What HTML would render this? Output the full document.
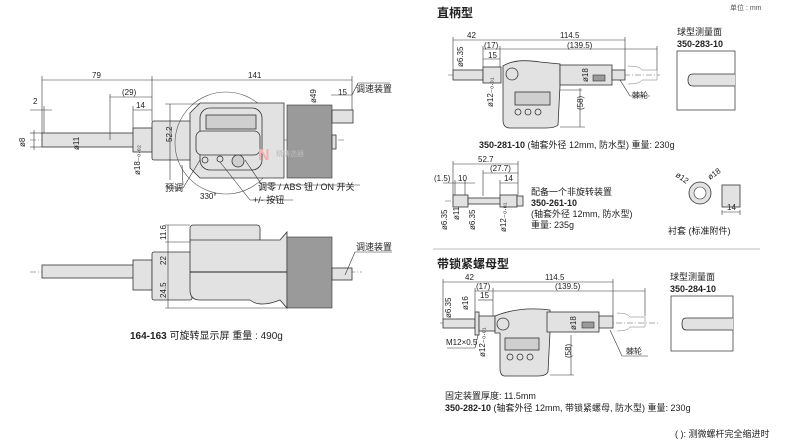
<!DOCTYPE html>
<html><head><meta charset="utf-8"><style>
body{margin:0;background:#fff}
svg{display:block}
text{font-family:"Liberation Sans","Noto Sans CJK SC",sans-serif;fill:#222}
.d{font-size:8px}.c{font-size:9px}.b{font-size:9px;font-weight:bold}
.ln{stroke:#333;stroke-width:.6;fill:none}
.g{fill:#e2e2e2;stroke:#333;stroke-width:.8}
.g2{fill:#cfcfcf;stroke:#333;stroke-width:.8}
.k{fill:#9a9a9a;stroke:#333;stroke-width:.6}
.cl{stroke:#555;stroke-width:.5;stroke-dasharray:6 2 1 2;fill:none}
</style></head><body>
<svg width="800" height="443" viewBox="0 0 800 443">
<!-- ============ LEFT TOP VIEW ============ -->
<line class="cl" x1="30" y1="140" x2="345" y2="140"/>
<rect class="g" x="42" y="133" width="93" height="14"/>
<rect class="g" x="133" y="128" width="19" height="24"/>
<rect class="g" x="152" y="121" width="40" height="39" rx="2"/>
<circle cx="226" cy="143" r="51" fill="none" stroke="#555" stroke-width=".6"/>
<path class="g" d="M200 103 H284 V178 H200 L190 168 V113 Z"/>
<rect class="g" x="200" y="108" width="62" height="62" rx="10"/>
<rect class="g2" x="206" y="115" width="50" height="14"/>
<rect class="g" x="196" y="131" width="64" height="24" rx="6"/>
<circle class="g" cx="205" cy="160" r="3"/><circle class="g" cx="220" cy="159" r="3"/>
<circle class="g2" cx="238" cy="161" r="6"/>
<rect class="k" x="287" y="105" width="45" height="73"/>
<rect class="g" x="332" y="110" width="21" height="13"/>
<rect class="g" x="332" y="135" width="4" height="14"/>
<!-- dims -->
<g class="ln">
<line x1="42" y1="80" x2="352" y2="80"/><line x1="42" y1="76" x2="42" y2="133"/><line x1="152" y1="76" x2="152" y2="121"/><line x1="352" y1="76" x2="352" y2="110"/>
<line x1="110" y1="97" x2="152" y2="97"/><line x1="110" y1="94" x2="110" y2="140"/>
<line x1="133" y1="110" x2="152" y2="110"/><line x1="133" y1="106" x2="133" y2="128"/>
<line x1="30" y1="110" x2="52" y2="110"/><line x1="44" y1="106" x2="44" y2="133"/>
<line x1="30" y1="133" x2="42" y2="133"/><line x1="30" y1="147" x2="42" y2="147"/><line x1="34" y1="130" x2="34" y2="150"/>
<line x1="170" y1="104" x2="170" y2="180"/><line x1="165" y1="104" x2="200" y2="104"/>
<line x1="331" y1="95" x2="352" y2="95"/><line x1="352" y1="95" x2="358" y2="83"/><line x1="358" y1="83" x2="390" y2="83"/>
<line x1="182" y1="165" x2="183" y2="185"/><line x1="166" y1="188" x2="183" y2="188"/><line x1="183" y1="188" x2="200" y2="160"/>
<line x1="245" y1="160" x2="262" y2="185"/><line x1="262" y1="185" x2="360" y2="185"/>
<line x1="220" y1="162" x2="250" y2="200"/><line x1="250" y1="200" x2="293" y2="200"/>
</g>
<text class="d" x="92" y="78">79</text><text class="d" x="248" y="78">141</text>
<text class="d" x="122" y="95">(29)</text><text class="d" x="136" y="108">14</text><text class="d" x="33" y="104">2</text>
<text class="d" x="338" y="95">15</text><text class="c" x="356" y="92">调速装置</text>
<text class="d" transform="translate(25 147) rotate(-90)">ø8</text>
<text class="d" transform="translate(79 150) rotate(-90)">ø11</text>
<text class="d" transform="translate(140 175) rotate(-90)">ø18₋₀.₀₂</text>
<text class="d" transform="translate(172 142) rotate(-90)">52.2</text>
<text class="d" transform="translate(316 103) rotate(-90)">ø49</text>
<text class="c" x="165" y="191">预调</text><text class="d" x="200" y="199">330°</text>
<text class="c" x="258" y="190">调零 / ABS 钮 / ON 开关</text>
<text class="c" x="253" y="203">+/- 按钮</text>
<!-- watermark -->
<text x="258" y="160" style="font-size:16px;font-weight:bold;fill:#f3b0b0">N</text>
<text x="276" y="156" style="font-size:7px;fill:#bbb">精铸选器</text>
<!-- ============ LEFT SIDE VIEW ============ -->
<line class="cl" x1="30" y1="272" x2="362" y2="272"/>
<rect class="g" x="42" y="265" width="93" height="13"/>
<rect class="g" x="133" y="260" width="19" height="30"/>
<rect class="g" x="152" y="252" width="40" height="48" rx="2"/>
<rect class="g" x="190" y="225" width="70" height="17" rx="3"/>
<path class="g" d="M190 240 H280 L287 232 V308 L280 300 Q260 308 250 300 H200 Q190 300 190 290 Z"/>
<line x1="190" y1="272" x2="287" y2="272" stroke="#222" stroke-width="1"/>
<rect class="k" x="287" y="237" width="45" height="71"/>
<rect class="g" x="332" y="268" width="20" height="12"/>
<g class="ln">
<line x1="165" y1="225" x2="190" y2="225"/><line x1="165" y1="242" x2="190" y2="242"/><line x1="165" y1="308" x2="287" y2="308"/>
<line x1="168" y1="225" x2="168" y2="308"/>
<line x1="345" y1="275" x2="355" y2="252"/><line x1="355" y1="252" x2="392" y2="252"/>
</g>
<text class="d" transform="translate(166 240) rotate(-90)">11.6</text>
<text class="d" transform="translate(166 265) rotate(-90)">22</text>
<text class="d" transform="translate(166 298) rotate(-90)">24.5</text>
<text class="c" x="356" y="250">调速装置</text>
<text x="130" y="339" style="font-size:10px"><tspan font-weight="bold">164-163</tspan> 可旋转显示屏  重量 : 490g</text>
<!-- ============ RIGHT ============ -->
<text x="437" y="17" style="font-size:12px;font-weight:bold">直柄型</text>
<text x="730" y="10" style="font-size:7px;fill:#555">单位 : mm</text>
<!-- top drawing -->
<line class="cl" x1="448" y1="75" x2="660" y2="75"/>
<rect class="g" x="453" y="70" width="30" height="10"/>
<rect class="g" x="483" y="67" width="18" height="16"/>
<path class="g" d="M503 66 Q515 58 540 62 L560 64 V86 L558 125 Q555 128 545 128 H510 Q503 128 503 120 Z"/>
<circle class="g" cx="512" cy="74" r="6"/>
<rect class="g2" x="515" y="92" width="35" height="13"/>
<circle class="g" cx="518" cy="112" r="3"/><circle class="g" cx="528" cy="112" r="3"/><circle class="g" cx="538" cy="112" r="3"/>
<rect class="g" x="560" y="65" width="52" height="20"/>
<rect class="k" x="593" y="75" width="12" height="6"/>
<rect class="g" x="612" y="70" width="13" height="10"/>
<path d="M628 66 Q640 66 642 70 H657 V80 H642 Q640 84 628 84" fill="none" stroke="#777" stroke-width=".5"/>
<g class="ln">
<line x1="453" y1="40" x2="625" y2="40"/><line x1="453" y1="37" x2="453" y2="70"/><line x1="625" y1="37" x2="625" y2="70"/>
<line x1="483" y1="49" x2="657" y2="49"/><line x1="483" y1="46" x2="483" y2="67"/><line x1="500" y1="46" x2="500" y2="67"/><line x1="657" y1="46" x2="657" y2="70"/>
<line x1="483" y1="59" x2="500" y2="59"/>
<line x1="560" y1="90" x2="582" y2="90"/><line x1="560" y1="127" x2="585" y2="127"/><line x1="580" y1="88" x2="580" y2="127"/>
<line x1="620" y1="80" x2="630" y2="96"/><line x1="630" y1="96" x2="650" y2="96"/>
</g>
<text class="d" x="467" y="38">42</text><text class="d" x="560" y="38">114.5</text>
<text class="d" x="484" y="48">(17)</text><text class="d" x="567" y="48">(139.5)</text><text class="d" x="488" y="58">15</text>
<text class="d" transform="translate(463 67) rotate(-90)">ø6.35</text>
<text class="d" transform="translate(493 107) rotate(-90)">ø12₋₀.₀₁</text>
<text class="d" transform="translate(588 82) rotate(-90)">ø18</text>
<text class="d" transform="translate(583 110) rotate(-90)">(58)</text>
<text class="d" x="632" y="98">棘轮</text>
<text class="c" x="479" y="148"><tspan font-weight="bold">350-281-10</tspan> (轴套外径 12mm, 防水型) 重量: 230g</text>
<text class="c" x="677" y="35">球型测量面</text><text class="b" x="677" y="47">350-283-10</text>
<rect x="677" y="51" width="58" height="59" fill="#fff" stroke="#444" stroke-width=".8"/>
<path class="g" d="M735 74 H693 Q688 74 688 80 Q688 86 693 86 H735"/>
<!-- second -->
<line class="cl" x1="445" y1="201" x2="520" y2="201"/>
<rect class="g" x="453" y="195" width="15" height="12"/>
<rect class="g" x="468" y="198" width="33" height="6"/>
<rect class="g" x="500" y="195" width="17" height="12"/>
<rect class="g" x="517" y="196" width="6" height="10"/>
<g class="ln">
<line x1="453" y1="164" x2="518" y2="164"/><line x1="453" y1="161" x2="453" y2="195"/><line x1="518" y1="161" x2="518" y2="195"/>
<line x1="483" y1="173" x2="518" y2="173"/><line x1="483" y1="170" x2="483" y2="196"/>
<line x1="500" y1="183" x2="518" y2="183"/><line x1="500" y1="180" x2="500" y2="195"/>
<line x1="443" y1="183" x2="475" y2="183"/><line x1="455" y1="180" x2="455" y2="195"/><line x1="465" y1="180" x2="465" y2="195"/>
</g>
<text class="d" x="478" y="162">52.7</text><text class="d" x="490" y="171">(27.7)</text><text class="d" x="504" y="181">14</text>
<text class="d" x="434" y="181">(1.5)</text><text class="d" x="458" y="181">10</text>
<text class="d" transform="translate(447 230) rotate(-90)">ø6.35</text>
<text class="d" transform="translate(459 220) rotate(-90)">ø11</text>
<text class="d" transform="translate(475 230) rotate(-90)">ø6.35</text>
<text class="d" transform="translate(506 232) rotate(-90)">ø12₋₀.₀₁</text>
<text class="c" x="531" y="195">配备一个非旋转装置</text>
<text class="b" x="531" y="206">350-261-10</text>
<text class="c" x="531" y="217">(轴套外径 12mm, 防水型)</text>
<text class="c" x="531" y="228">重量: 235g</text>
<circle class="g" cx="700" cy="193" r="11"/><circle cx="700" cy="193" r="6" fill="#fff" stroke="#333" stroke-width=".6"/>
<rect class="g" x="722" y="185" width="18" height="22"/>
<g class="ln"><line x1="722" y1="210" x2="722" y2="215"/><line x1="740" y1="210" x2="740" y2="215"/><line x1="722" y1="212" x2="740" y2="212"/></g>
<text class="d" x="727" y="210">14</text>
<text class="d" transform="translate(675 176) rotate(35)">ø12</text>
<text class="d" transform="translate(710 180) rotate(-35)">ø18</text>
<text class="c" x="668" y="234">衬套 (标准附件)</text>
<line x1="433" y1="249" x2="760" y2="249" stroke="#bbb" stroke-width="1"/>
<!-- bottom right -->
<text x="437" y="268" style="font-size:12px;font-weight:bold">带锁紧螺母型</text>
<line class="cl" x1="440" y1="323" x2="660" y2="323"/>
<rect class="g" x="443" y="319" width="32" height="9"/>
<rect class="g" x="475" y="312" width="4" height="23"/>
<rect class="g" x="479" y="316" width="16" height="15"/>
<path class="g" d="M495 316 Q520 306 550 310 V332 L548 372 Q546 376 538 376 H505 Q500 376 500 368 V333 H495 Z"/>
<circle class="g" cx="503" cy="324" r="6"/>
<rect class="g2" x="505" y="338" width="34" height="12"/>
<circle class="g" cx="510" cy="357" r="3"/><circle class="g" cx="520" cy="357" r="3"/><circle class="g" cx="530" cy="357" r="3"/>
<rect class="g" x="547" y="312" width="52" height="20"/>
<rect class="k" x="582" y="322" width="12" height="6"/>
<rect class="g" x="599" y="316" width="14" height="12"/>
<path d="M617 313 Q628 313 630 317 H645 V327 H630 Q628 331 617 331" fill="none" stroke="#777" stroke-width=".5"/>
<g class="ln">
<line x1="443" y1="282" x2="613" y2="282"/><line x1="443" y1="279" x2="443" y2="319"/><line x1="613" y1="279" x2="613" y2="316"/>
<line x1="475" y1="291" x2="645" y2="291"/><line x1="475" y1="288" x2="475" y2="312"/><line x1="493" y1="288" x2="493" y2="316"/><line x1="645" y1="288" x2="645" y2="316"/>
<line x1="478" y1="300" x2="493" y2="300"/>
<line x1="447" y1="348" x2="475" y2="348"/><line x1="475" y1="348" x2="478" y2="335"/>
<line x1="550" y1="375" x2="574" y2="375"/><line x1="571" y1="335" x2="571" y2="375"/>
<line x1="610" y1="330" x2="622" y2="356"/><line x1="622" y1="356" x2="648" y2="356"/>
</g>
<text class="d" x="465" y="280">42</text><text class="d" x="545" y="280">114.5</text>
<text class="d" x="476" y="289">(17)</text><text class="d" x="555" y="289">(139.5)</text><text class="d" x="480" y="298">15</text>
<text class="d" transform="translate(451 318) rotate(-90)">ø6.35</text>
<text class="d" transform="translate(468 310) rotate(-90)">ø16</text>
<text class="d" x="446" y="345">M12×0.5</text>
<text class="d" transform="translate(485 357) rotate(-90)">ø12₋₀.₀₁</text>
<text class="d" transform="translate(576 330) rotate(-90)">ø18</text>
<text class="d" transform="translate(571 358) rotate(-90)">(58)</text>
<text class="d" x="626" y="354">棘轮</text>
<text class="c" x="670" y="280">球型测量面</text><text class="b" x="670" y="292">350-284-10</text>
<rect x="671" y="296" width="62" height="55" fill="#fff" stroke="#444" stroke-width=".8"/>
<path class="g" d="M733 318 H686 Q682 318 682 324 Q682 330 686 330 H733"/>
<text class="c" x="445" y="399">固定装置厚度: 11.5mm</text>
<text class="c" x="445" y="411"><tspan font-weight="bold">350-282-10</tspan> (轴套外径 12mm, 带锁紧螺母, 防水型) 重量: 230g</text>
<text class="c" x="675" y="437">( ): 测微螺杆完全缩进时</text>
</svg>
</body></html>
